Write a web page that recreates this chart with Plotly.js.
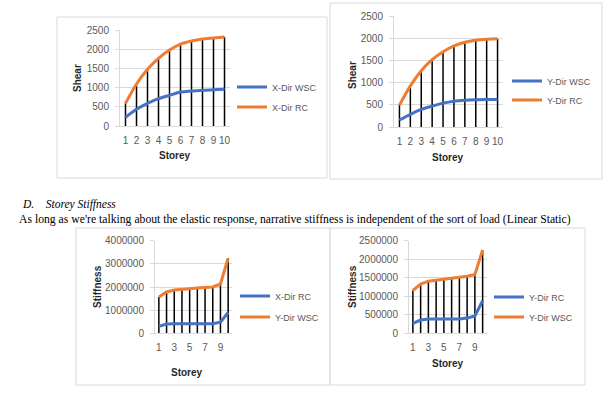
<!DOCTYPE html>
<html>
<head>
<meta charset="utf-8">
<script src="https://cdn.plot.ly/plotly-3.0.1.min.js"></script>
<style>
html,body{margin:0;padding:0;background:#fff;}
#chart{width:611px;height:398px;}
</style>
</head>
<body>
<div id="chart"></div>
<script>
// ---- data ----
const storeys = [1, 2, 3, 4, 5, 6, 7, 8, 9, 10];
const xDirWscShear = [226, 434, 590, 712, 799, 885, 911, 929, 946, 955];
const xDirRcShear = [590, 1094, 1476, 1762, 1979, 2135, 2214, 2266, 2292, 2318];
const yDirWscShear = [157, 284, 396, 470, 537, 582, 604, 615, 619, 620];
const yDirRcShear = [493, 925, 1269, 1515, 1694, 1828, 1910, 1955, 1978, 1985];
const xDirRcStiff = [300000, 400000, 410000, 410000, 410000, 410000, 410000, 415000, 480000, 900000];
const yDirWscStiffA = [1571000, 1786000, 1871000, 1914000, 1929000, 1957000, 1971000, 2000000, 2129000, 3243000];
const yDirRcStiff = [269000, 358000, 385000, 385000, 385000, 385000, 385000, 410000, 470000, 878000];
const yDirWscStiffB = [1156000, 1326000, 1407000, 1434000, 1460000, 1487000, 1505000, 1541000, 1586000, 2249000];

const shearTicks = [0, 500, 1000, 1500, 2000, 2500];
const stiffTicksA = [0, 1000000, 2000000, 3000000, 4000000];
const stiffTicksB = [0, 500000, 1000000, 1500000, 2000000, 2500000];
const storeyTicksAll = [1, 2, 3, 4, 5, 6, 7, 8, 9, 10];
const storeyTicksOdd = [1, 3, 5, 7, 9];

const headingText = 'D.\u2003Storey Stiffness';
const paragraphText = "As long as we're talking about the elastic response, narrative stiffness is independent of the sort of load (Linear Static)";

// ---- helpers ----
const W = 611, H = 398;
const px = x => x / W;
const py = y => 1 - y / H;
const BLUE = '#4472C4', ORANGE = '#ED7D31', GRID = '#D9D9D9', TICK = '#595959';

function dropLines(xs, hi, xa, ya) {
  const x = [], y = [];
  xs.forEach((v, i) => { x.push(v, v, null); y.push(0, hi[i], null); });
  return {x, y, xaxis: xa, yaxis: ya, mode: 'lines', type: 'scatter',
    line: {color: '#000', width: 1.5}, showlegend: false, hoverinfo: 'skip'};
}
function series(xs, ys, name, color, xa, ya, legend, shape) {
  return {x: xs, y: ys, name, xaxis: xa, yaxis: ya, type: 'scatter', mode: 'lines',
    line: {color, width: 3, shape: shape || 'linear', smoothing: 0.8}, legend};
}

const traces = [
  dropLines(storeys, xDirRcShear, 'x', 'y'),
  series(storeys, xDirWscShear, 'X-Dir WSC', BLUE, 'x', 'y', 'legend', 'spline'),
  series(storeys, xDirRcShear, 'X-Dir RC', ORANGE, 'x', 'y', 'legend2', 'spline'),
  dropLines(storeys, yDirRcShear, 'x2', 'y2'),
  series(storeys, yDirWscShear, 'Y-Dir WSC', BLUE, 'x2', 'y2', 'legend3', 'spline'),
  series(storeys, yDirRcShear, 'Y-Dir RC', ORANGE, 'x2', 'y2', 'legend4', 'spline'),
  dropLines(storeys, yDirWscStiffA, 'x3', 'y3'),
  series(storeys, xDirRcStiff, 'X-Dir RC', BLUE, 'x3', 'y3', 'legend5'),
  series(storeys, yDirWscStiffA, 'Y-Dir WSC', ORANGE, 'x3', 'y3', 'legend6'),
  dropLines(storeys, yDirWscStiffB, 'x4', 'y4'),
  series(storeys, yDirRcStiff, 'Y-Dir RC', BLUE, 'x4', 'y4', 'legend7'),
  series(storeys, yDirWscStiffB, 'Y-Dir WSC', ORANGE, 'x4', 'y4', 'legend8')
];

const tickFont = {family: 'Liberation Sans, Arial, sans-serif', size: 10, color: TICK};
function xAxis(d0, d1, anchor, tickvals) {
  return {domain: [px(d0), px(d1)], anchor, range: [0.5, 10.5], tickvals,
    showgrid: false, zeroline: false, showline: true, linecolor: GRID, linewidth: 1,
    ticks: '', tickfont: tickFont, ticklabelstandoff: 5, fixedrange: true};
}
function yAxis(y0, y1, anchor, tickvals, max) {
  return {domain: [py(y0), py(y1)], anchor, range: [0, max], tickvals, tickformat: 'd',
    showgrid: true, gridcolor: GRID, gridwidth: 1, zeroline: false,
    showline: true, linecolor: GRID, linewidth: 1,
    ticks: 'outside', ticklen: 4, tickcolor: GRID, tickfont: tickFont,
    ticklabelstandoff: 4, fixedrange: true};
}

function legendAt(textX, yc) {
  return {x: px(textX - 40), y: py(yc), xanchor: 'left', yanchor: 'middle',
    bgcolor: 'rgba(0,0,0,0)', borderwidth: 0, itemwidth: 30,
    font: {family: 'Liberation Sans, Arial, sans-serif', size: 9, color: TICK}};
}

function box(x0, y0, x1, y1) {
  return {type: 'rect', xref: 'paper', yref: 'paper', x0: px(x0), x1: px(x1), y0: py(y1), y1: py(y0),
    line: {color: GRID, width: 1}, fillcolor: 'rgba(0,0,0,0)', layer: 'below'};
}

const titleFont = {family: 'Liberation Sans, Arial, sans-serif', size: 10, color: '#262626', weight: 'bold'};
function label(text, x, y, angle) {
  return {text: '<b>' + text + '</b>', xref: 'paper', yref: 'paper', x: px(x), y: py(y),
    xanchor: 'center', yanchor: 'middle', showarrow: false, textangle: angle || 0, font: titleFont};
}

const layout = {
  width: W, height: H,
  margin: {l: 0, r: 0, t: 0, b: 0},
  paper_bgcolor: '#fff', plot_bgcolor: 'rgba(0,0,0,0)',
  xaxis: xAxis(120, 230, 'y', storeyTicksAll),
  yaxis: yAxis(126, 30, 'x', shearTicks, 2500),
  xaxis2: xAxis(394, 503, 'y2', storeyTicksAll),
  yaxis2: yAxis(127, 16, 'x2', shearTicks, 2500),
  xaxis3: xAxis(155, 232, 'y3', storeyTicksOdd),
  yaxis3: yAxis(333.3, 240.7, 'x3', stiffTicksA, 4000000),
  xaxis4: xAxis(409, 486.5, 'y4', storeyTicksOdd),
  yaxis4: yAxis(333.3, 240.7, 'x4', stiffTicksB, 2500000),
  legend: legendAt(272, 87),
  legend2: legendAt(272, 107),
  legend3: legendAt(547, 81),
  legend4: legendAt(547, 100),
  legend5: legendAt(275, 296),
  legend6: legendAt(275, 317),
  legend7: legendAt(529, 297),
  legend8: legendAt(529, 317),
  shapes: [
    box(57, 17, 327, 178),
    box(330, 3, 602, 179),
    box(76, 228, 330, 385),
    box(330, 228, 585, 385)
  ],
  annotations: [
    label('Shear', 78, 78, -90),
    label('Storey', 175, 156),
    label('Shear', 352, 75, -90),
    label('Storey', 448, 157),
    label('Stiffness', 97, 287, -90),
    label('Storey', 187, 372),
    label('Stiffness', 352, 287, -90),
    label('Storey', 448, 363),
    {text: '<i>' + headingText + '</i>', xref: 'paper', yref: 'paper', x: px(20), y: py(204),
      xanchor: 'left', yanchor: 'middle', showarrow: false,
      font: {family: 'Liberation Serif, Times New Roman, serif', size: 11.5, color: '#000'}},
    {text: paragraphText, xref: 'paper', yref: 'paper', x: px(17), y: py(219.5),
      xanchor: 'left', yanchor: 'middle', showarrow: false,
      font: {family: 'Liberation Serif, Times New Roman, serif', size: 11.7, color: '#000'}}
  ]
};

Plotly.newPlot('chart', traces, layout, {staticPlot: true, displayModeBar: false});
</script>
</body>
</html>
